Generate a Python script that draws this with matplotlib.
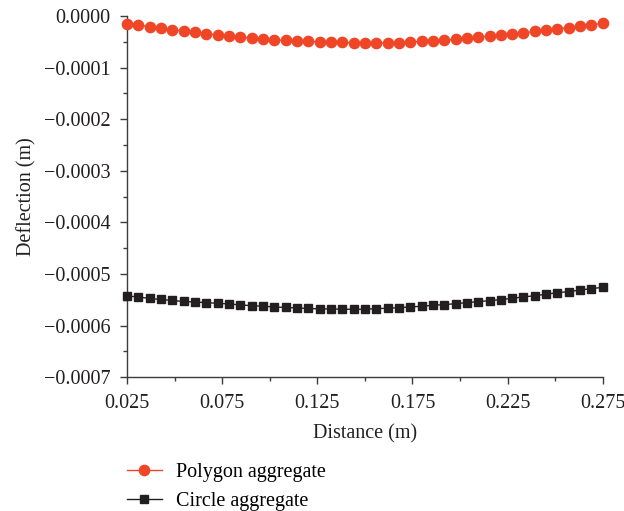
import numpy as np
import matplotlib.pyplot as plt
from matplotlib.ticker import FixedLocator, MultipleLocator, FuncFormatter

plt.rcParams['font.family'] = ['Liberation Serif', 'DejaVu Serif']

# distance along the beam (m)
distance = [0.02500, 0.03095, 0.03690, 0.04286, 0.04881, 0.05476, 0.06071,
            0.06667, 0.07262, 0.07857, 0.08452, 0.09048, 0.09643, 0.10238,
            0.10833, 0.11429, 0.12024, 0.12619, 0.13214, 0.13810, 0.14405,
            0.15000, 0.15595, 0.16190, 0.16786, 0.17381, 0.17976, 0.18571,
            0.19167, 0.19762, 0.20357, 0.20952, 0.21548, 0.22143, 0.22738,
            0.23333, 0.23929, 0.24524, 0.25119, 0.25714, 0.26310, 0.26905,
            0.27500]

# deflection (m)
polygon = [-0.0000155, -0.0000174, -0.0000207, -0.0000233, -0.0000266,
           -0.0000291, -0.0000316, -0.0000343, -0.0000368, -0.0000388,
           -0.0000407, -0.0000426, -0.0000446, -0.0000459, -0.0000471,
           -0.0000484, -0.0000490, -0.0000498, -0.0000504, -0.0000510,
           -0.0000517, -0.0000517, -0.0000517, -0.0000517, -0.0000517,
           -0.0000504, -0.0000490, -0.0000479, -0.0000465, -0.0000452,
           -0.0000432, -0.0000413, -0.0000393, -0.0000374, -0.0000349,
           -0.0000324, -0.0000297, -0.0000271, -0.0000246, -0.0000227,
           -0.0000194, -0.0000169, -0.0000141]

circle = [-0.0005426, -0.0005446, -0.0005475, -0.0005494, -0.0005514,
          -0.0005533, -0.0005543, -0.0005556, -0.0005568, -0.0005581,
          -0.0005601, -0.0005614, -0.0005626, -0.0005640, -0.0005649,
          -0.0005659, -0.0005669, -0.0005678, -0.0005678, -0.0005684,
          -0.0005684, -0.0005684, -0.0005672, -0.0005665, -0.0005653,
          -0.0005640, -0.0005626, -0.0005607, -0.0005595, -0.0005576,
          -0.0005556, -0.0005537, -0.0005517, -0.0005498, -0.0005471,
          -0.0005446, -0.0005421, -0.0005393, -0.0005362, -0.0005343,
          -0.0005310, -0.0005285, -0.0005258]

xticks = [0.025, 0.075, 0.125, 0.175, 0.225, 0.275]
xminor = [0.05, 0.10, 0.15, 0.20, 0.25]

fig = plt.figure(figsize=(6.24, 5.11), dpi=100)
ax = fig.add_axes([0.2035, 0.262, 0.7625, 0.7065])

ax.plot(distance, polygon, '-o', color='#f04628', markersize=7.4, linewidth=1.0,
        label='Polygon aggregate', clip_on=False, zorder=3)
ax.plot(distance, circle, '-s', color='#231f20', markersize=5.8, linewidth=1.0,
        label='Circle aggregate', clip_on=False, zorder=3)

ax.set_xlim(0.025, 0.275)
ax.set_ylim(-0.0007, 0.0)

ax.xaxis.set_major_locator(FixedLocator(xticks))
ax.xaxis.set_minor_locator(FixedLocator(xminor))
ax.yaxis.set_major_locator(MultipleLocator(0.0001))
ax.yaxis.set_minor_locator(MultipleLocator(0.00005))
ax.xaxis.set_major_formatter(FuncFormatter(lambda v, p: '%.3f' % v))


def yfmt(v, p):
    if abs(v) < 1e-12:
        return '0.0000'
    return ('%.4f' % v).replace('-', '\u2212')


ax.yaxis.set_major_formatter(FuncFormatter(yfmt))

for s in ['top', 'right']:
    ax.spines[s].set_visible(False)
for s in ['left', 'bottom']:
    ax.spines[s].set_color('#3c3c3c')
    ax.spines[s].set_linewidth(1.0)

ax.tick_params(which='major', length=5, width=1.0, color='#3c3c3c',
               labelsize=14.5, labelcolor='#231f20', direction='out')
ax.tick_params(axis='y', which='major', pad=7)
ax.tick_params(axis='x', which='major', pad=7)
ax.tick_params(which='minor', length=3, width=1.0, color='#3c3c3c',
               direction='out')

ax.set_xlabel('Distance (m)', fontsize=14.5, color='#231f20', labelpad=8)
ax.set_ylabel('Deflection (m)', fontsize=14.5, color='#231f20', labelpad=5)

fig.legend(loc='upper left', bbox_to_anchor=(0.19, 0.11), frameon=False,
           fontsize=14.5, handlelength=1.75, handletextpad=0.7, labelspacing=0.5,
           borderaxespad=0)

fig.savefig('out.png', dpi=100)
